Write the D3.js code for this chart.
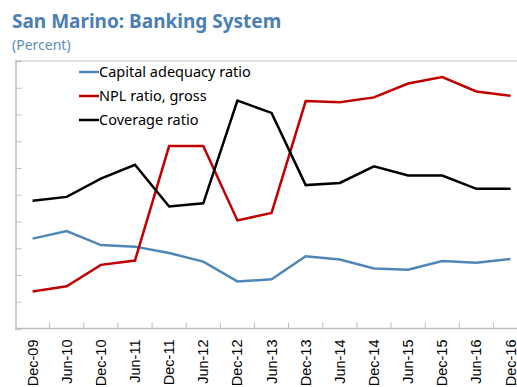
<!DOCTYPE html>
<html>
<head>
<meta charset="utf-8">
<script src="https://cdn.jsdelivr.net/npm/d3@7/dist/d3.min.js"></script>
<style>
  html, body { margin: 0; padding: 0; background: #fff; }
  svg { display: block; font-family: "Noto Sans", "Open Sans", sans-serif; }
</style>
</head>
<body>
<svg id="chart" width="517" height="387"></svg>
<script>
// Half-yearly periods
const periods = ["Dec-09","Jun-10","Dec-10","Jun-11","Dec-11","Jun-12","Dec-12","Jun-13",
                 "Dec-13","Jun-14","Dec-14","Jun-15","Dec-15","Jun-16","Dec-16"];

// Series values (percent)
const capitalAdequacy = [16.8,18.2,15.6,15.3,14.1,12.5,8.8,9.2,13.5,12.9,11.2,11.0,12.6,12.3,13.0];
const nplRatio        = [6.9,7.9,11.9,12.7,34.1,34.1,20.2,21.6,42.5,42.3,43.2,45.8,47.0,44.3,43.5];
const coverageRatio   = [23.9,24.6,28.0,30.6,22.8,23.4,42.6,40.3,26.8,27.2,30.3,28.6,28.6,26.1,26.1];

const seriesNames  = ["Capital adequacy ratio","NPL ratio, gross","Coverage ratio"];
const seriesColors = ["#4f86b8","#c00000","#000000"];
const yTicks = [0,5,10,15,20,25,30,35,40,45,50];

const series = [capitalAdequacy, nplRatio, coverageRatio].map((v, i) => ({
  name: seriesNames[i], color: seriesColors[i], values: v
}));

const svg = d3.select("#chart");
const plotLeft = 15.5, plotTop = 61, plotBottom = 328.5, plotRight = 527.6;

const x = d3.scaleBand().domain(periods).range([plotLeft, plotRight]).padding(0);
const y = d3.scaleLinear().domain([0, 50]).range([plotBottom, plotTop]);

const axisColor = "#bfbfbf";

// Title
svg.append("text").attr("x", 12).attr("y", 28)
  .attr("font-size", 19).attr("font-weight", 700).attr("fill", "#4a7eb4")
  .text("San Marino: Banking System");
svg.append("text").attr("x", 12).attr("y", 50)
  .attr("font-size", 14).attr("fill", "#5a8cc0")
  .text("(Percent)");

// Top frame line
svg.append("line")
  .attr("x1", plotLeft).attr("x2", 517).attr("y1", y(50)).attr("y2", y(50))
  .attr("stroke", "#d9d9d9").attr("stroke-width", 1.5);

// Left axis with inward ticks, no labels
const yAxis = svg.append("g").attr("transform", `translate(${plotLeft},0)`)
  .call(d3.axisLeft(y).tickValues(yTicks).tickSize(-6).tickFormat(""));
yAxis.select(".domain").attr("stroke", axisColor).attr("stroke-width", 1.5);
yAxis.selectAll(".tick line").attr("stroke", axisColor);

// Bottom axis: labels at period centres
const xAxis = svg.append("g").attr("transform", `translate(0,${plotBottom})`)
  .call(d3.axisBottom(x).tickSize(0));
xAxis.select(".domain").remove();
xAxis.selectAll(".tick text")
  .attr("font-size", 14.5).attr("fill", "#000")
  .attr("transform", "rotate(-90)")
  .attr("text-anchor", "end")
  .attr("x", -11).attr("y", 0).attr("dy", "0.35em");

svg.append("line")
  .attr("x1", plotLeft).attr("x2", plotRight).attr("y1", plotBottom).attr("y2", plotBottom)
  .attr("stroke", axisColor).attr("stroke-width", 1.5);

// Tick marks between periods
svg.append("g").selectAll("line")
  .data(periods.slice(1))
  .join("line")
  .attr("x1", d => x(d)).attr("x2", d => x(d))
  .attr("y1", plotBottom).attr("y2", plotBottom - 6)
  .attr("stroke", axisColor);

// Lines
const line = d3.line()
  .x((d, i) => x(periods[i]) + x.bandwidth() / 2)
  .y(d => y(d));

svg.append("g").selectAll("path")
  .data(series)
  .join("path")
  .attr("d", d => line(d.values))
  .attr("fill", "none")
  .attr("stroke", d => d.color)
  .attr("stroke-width", 2.5)
  .attr("stroke-linejoin", "miter");

// Legend
const legend = svg.append("g").selectAll("g")
  .data(series)
  .join("g")
  .attr("transform", (d, i) => `translate(79,${72 + i * 24})`);
legend.append("line")
  .attr("x1", 0).attr("x2", 20).attr("y1", 0).attr("y2", 0)
  .attr("stroke", d => d.color).attr("stroke-width", 2.5);
legend.append("text")
  .attr("x", 20).attr("y", 0).attr("dy", "0.35em")
  .attr("font-size", 14.5).attr("fill", "#000")
  .text(d => d.name);
</script>
</body>
</html>
